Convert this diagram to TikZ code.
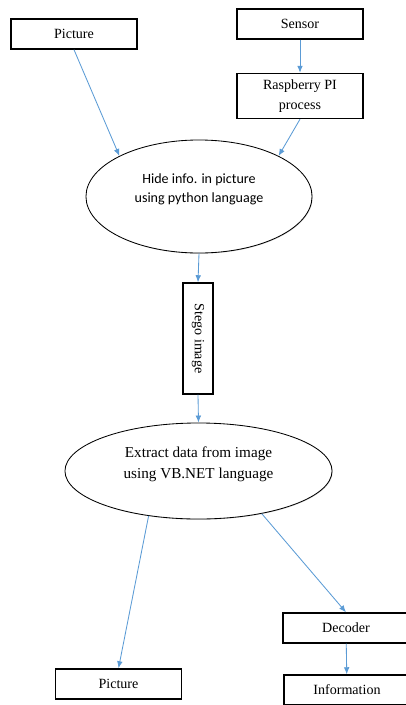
\documentclass[tikz,border=0pt]{standalone}
\usepackage{fontspec}
\setmainfont{Liberation Serif}
\newfontfamily\calibri{Carlito}
\usetikzlibrary{arrows.meta,shapes,shadows}
\definecolor{linkblue}{HTML}{5B9BD5}

\begin{document}
\begin{tikzpicture}[
    x=0.025cm, y=-0.025cm,
    box/.style={rectangle, draw, line width=1pt, fill=white, minimum width=3.15cm, minimum height=0.75cm, align=center, font=\fontsize{10}{14.5}\selectfont, drop shadow={shadow xshift=0.5pt, shadow yshift=-0.5pt, opacity=0.3, fill=gray}},
    oval/.style={ellipse, draw, line width=0.6pt, fill=white, inner sep=0pt, drop shadow={shadow xshift=0.5pt, shadow yshift=-0.5pt, opacity=0.3, fill=gray}},
    arrow/.style={-{Latex[length=5pt,width=4pt]}, linkblue, line width=0.6pt}
]
\useasboundingbox (0,0) rectangle (406,705);

% Input side
\node[box] (pic1) at (74,34) {Picture};
\node[box] (sensor) at (300,24) {Sensor};
\node[box, minimum height=1.125cm] (rasp) at (300,96) {Raspberry PI\\process};

% Hiding stage
\node[oval, minimum width=5.65cm, minimum height=2.825cm,
      label={[font=\calibri\fontsize{10}{14}\selectfont, align=center, yshift=5pt]center:Hide info. in picture\\using python language}] (hide) at (199,196.5) {};

% Stego image
\node[box, minimum width=0.75cm, minimum height=2.775cm] (stego) at (198,338.5) {\rotatebox{-90}{Stego image}};

% Extraction stage
\node[oval, minimum width=6.675cm, minimum height=2.4cm,
      label={[font=\fontsize{10.8}{15}\selectfont, align=center, yshift=4.6pt]center:Extract data from image\\using VB.NET language}] (extract) at (198.5,471) {};

% Output side
\node[box] (pic2) at (118.5,684) {Picture};
\node[box] (decoder) at (346,628) {Decoder};
\node[box] (info) at (347,690) {Information};

% Arrows
\draw[arrow] (pic1.south) -- (hide.153);
\draw[arrow] (sensor) -- (rasp);
\draw[arrow] (rasp.south) -- (hide.27);
\draw[arrow] (hide.south) -- (stego.north);
\draw[arrow] (stego.south) -- (extract.north);
\draw[arrow] (extract.222) -- (pic2.north);
\draw[arrow] (extract.-34) -- (decoder.north);
\draw[arrow] (decoder) -- (info);

\end{tikzpicture}
\end{document}
